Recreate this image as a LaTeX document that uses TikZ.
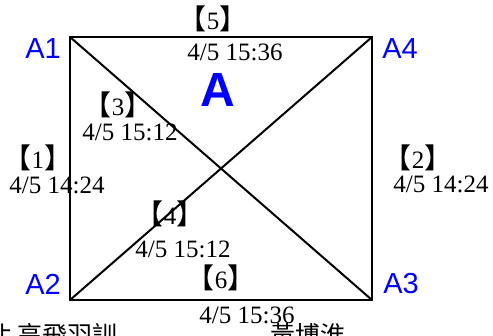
\documentclass[tikz,border=0pt]{standalone}
\usepackage{fontspec}
\setmainfont{Liberation Serif}
\setsansfont{Liberation Sans}
\newfontfamily\cjk{Noto Sans CJK TC}
\newcommand{\tagno}[1]{{\cjk\fontsize{28}{28}\selectfont 【}#1{\cjk\fontsize{28}{28}\selectfont 】}}

\begin{document}
\begin{tikzpicture}[x=1pt, y=-1pt,
  edge/.style={line width=2pt},
  corner/.style={font=\sffamily\fontsize{29}{29}\selectfont, text=blue, inner sep=0pt},
  tag/.style={font=\fontsize{25}{25}\selectfont, inner sep=0pt},
  stamp/.style={font=\fontsize{25}{25}\selectfont, inner sep=0pt, anchor=base},
  note/.style={font=\cjk\fontsize{25}{25}\selectfont, inner sep=0pt, anchor=base west}]
\useasboundingbox (0,0) rectangle (493,335);
% square corners
\coordinate (a1) at (70,37);
\coordinate (a4) at (372,37);
\coordinate (a2) at (70,300);
\coordinate (a3) at (372,300);
\draw[edge] (a1) -- (a4) -- (a3) -- (a2) -- cycle;
\draw[edge] (a1) -- (a3);
\draw[edge] (a2) -- (a4);
% corner names
\node[corner] (n1) at (43,49) {A1};
\node[corner] (n4) at (400,49) {A4};
\node[corner] (n2) at (43,284) {A2};
\node[corner] (n3) at (401,284) {A3};
\node[corner, font=\sffamily\bfseries\fontsize{48}{48}\selectfont] (big) at (218,90) {A};
% edge tags and times
\node[tag] (g5) at (213,19) {\tagno{5}};
\node[stamp] (s5) at (235,60) {4/5 15:36};
\node[tag] (g3) at (118,105) {\tagno{3}};
\node[stamp] (s3) at (130,140) {4/5 15:12};
\node[tag] (g1) at (38,158) {\tagno{1}};
\node[stamp] (s1) at (57,193) {4/5 14:24};
\node[tag] (g2) at (418,158) {\tagno{2}};
\node[stamp] (s2) at (441,192) {4/5 14:24};
\node[tag] (g4) at (170,214) {\tagno{4}};
\node[stamp] (s4) at (183,257) {4/5 15:12};
\node[tag] (g6) at (221,278) {\tagno{6}};
\node[stamp] (s6) at (247,323) {4/5 15:36};
% names cut off at the bottom
\node[note] (who1) at (-13,344) {北 高飛羽訓};
\node[note] (who2) at (270,344) {黃博淮};
\end{tikzpicture}
\end{document}
